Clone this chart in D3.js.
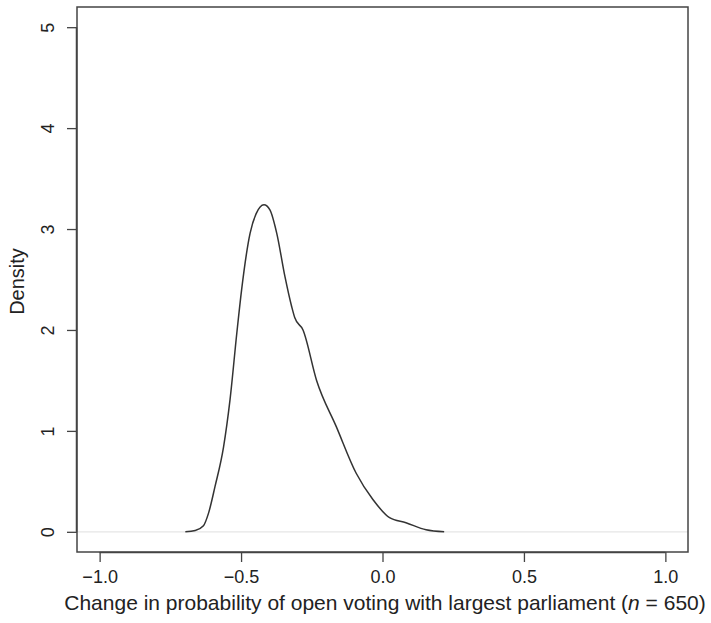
<!DOCTYPE html>
<html>
<head>
<meta charset="utf-8">
<script src="https://cdn.jsdelivr.net/npm/d3@7"></script>
<style>
	body { margin: 0; background: #fff; }
	svg { font-family: 'Liberation Sans', Arial, sans-serif; }
</style>
</head>
<body>
<svg id="chart" width="711" height="623"></svg>
<script>
// density estimate
const changeValues = [-0.697, -0.662, -0.633, -0.615, -0.592, -0.562, -0.539, -0.515, -0.498, -0.468, -0.447, -0.419, -0.398, -0.374, -0.345, -0.321, -0.31, -0.281, -0.233, -0.163, -0.093, -0.034, 0.025, 0.083, 0.154, 0.218]
const densityValues = [0, 0.013, 0.06, 0.185, 0.45, 0.84, 1.31, 1.97, 2.4, 2.96, 3.15, 3.24, 3.19, 2.96, 2.53, 2.23, 2.12, 2.0, 1.5, 1.04, 0.58, 0.32, 0.14, 0.09, 0.02, 0]
const xTicks = [-1.0, -0.5, 0.0, 0.5, 1.0]
const yTicks = [0, 1, 2, 3, 4, 5]

const svg = d3.select('#chart')
const box = { left: 77, right: 688, top: 7, bottom: 552 }

// R style: limits padded by 4%
const x = d3.scaleLinear().domain([-1.08, 1.08]).range([box.left, box.right])
const y = d3.scaleLinear().domain([-0.2, 5.2]).range([box.bottom, box.top])

const data = changeValues.map((v, i) => ({ v: v, d: densityValues[i] }))

// zero line
svg.append('line')
	.attr('x1', box.left)
	.attr('x2', box.right)
	.attr('y1', y(0))
	.attr('y2', y(0))
	.attr('stroke', '#e6e6e6')
	.attr('stroke-width', 1.2)

svg.append('path')
	.datum(data)
	.attr('fill', 'none')
	.attr('stroke', '#333')
	.attr('stroke-width', 1.5)
	.attr('d', d3.line()
		.x(d => x(d.v))
		.y(d => y(d.d))
		.curve(d3.curveMonotoneX))

// frame
svg.append('rect')
	.attr('x', box.left)
	.attr('y', box.top)
	.attr('width', box.right - box.left)
	.attr('height', box.bottom - box.top)
	.attr('fill', 'none')
	.attr('stroke', '#444')
	.attr('stroke-width', 1.5)

const xAxis = svg.append('g')
	.attr('transform', `translate(0,${box.bottom})`)
	.call(d3.axisBottom(x).tickValues(xTicks).tickSize(10).tickPadding(8)
		.tickFormat(d => d3.format('.1f')(d).replace('-', '\u2212')))
xAxis.select('.domain')
	.attr('d', `M${x(-1)},0.5H${x(1)}`)
	.attr('stroke', '#444')
	.attr('stroke-width', 1.5)

const yAxis = svg.append('g')
	.attr('transform', `translate(${box.left},0)`)
	.call(d3.axisLeft(y).tickValues(yTicks).tickSize(10).tickFormat(d3.format('d')))
yAxis.select('.domain')
	.attr('d', `M-0.5,${y(0)}V${y(5)}`)
	.attr('stroke', '#444')
	.attr('stroke-width', 1.5)
yAxis.selectAll('.tick text')
	.attr('x', 0)
	.attr('dy', 0)
	.attr('text-anchor', 'middle')
	.attr('transform', 'translate(-29,0) rotate(-90) translate(0,6)')

svg.selectAll('.tick line').attr('stroke', '#444').attr('stroke-width', 1.3)
svg.selectAll('.tick text').attr('fill', '#222').style('font-size', '18px')

svg.append('text')
	.attr('transform', `translate(24,${(box.top + box.bottom) / 2 + 2}) rotate(-90)`)
	.attr('text-anchor', 'middle')
	.attr('fill', '#222')
	.style('font-size', '20px')
	.text('Density')

const xl = svg.append('text')
	.attr('x', 385)
	.attr('y', 610)
	.attr('text-anchor', 'middle')
	.attr('fill', '#222')
	.style('font-size', '21px')
xl.append('tspan').text('Change in probability of open voting with largest parliament (')
xl.append('tspan').style('font-style', 'italic').text('n')
xl.append('tspan').text(' = 650)')
</script>
</body>
</html>
